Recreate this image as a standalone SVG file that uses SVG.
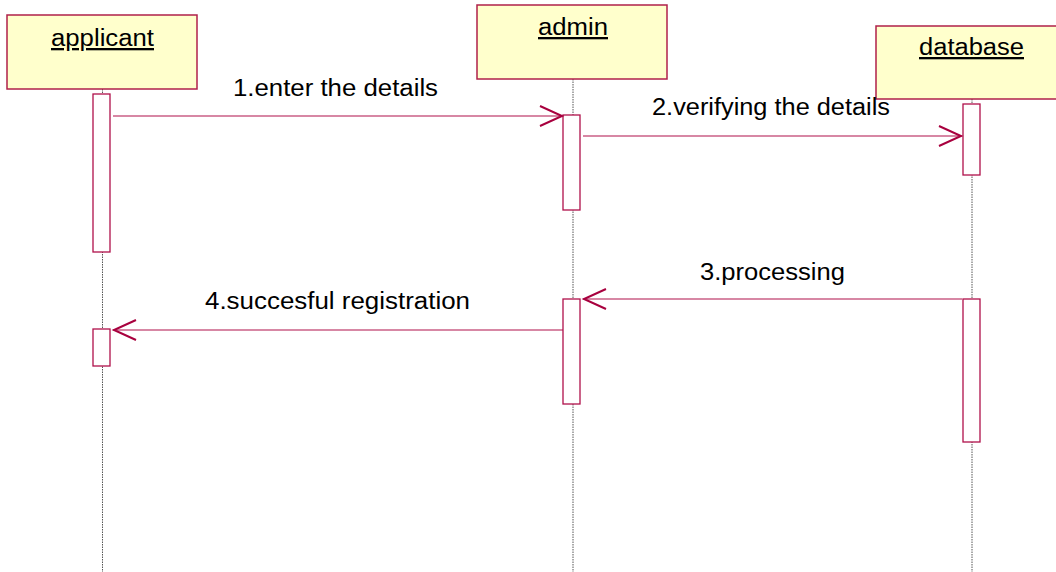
<svg xmlns="http://www.w3.org/2000/svg" width="1056" height="572" viewBox="0 0 1056 572">
<defs>
<style>
.obj{fill:#ffffcc;stroke:#b0204a;stroke-width:1.5}
.act{fill:#ffffff;stroke:#b0104a;stroke-width:1.3}
.life{stroke:#555555;stroke-width:1;stroke-dasharray:1.5,1}
.msg{stroke:#b0104a;stroke-width:1.2;fill:none}
.head{stroke:#a8003e;stroke-width:2;fill:none}
.lbl{font-family:"Liberation Sans",Arial,sans-serif;font-size:23px;fill:#000}
.name{font-family:"Liberation Sans",Arial,sans-serif;font-size:23px;fill:#000;text-decoration:underline}
</style>
</defs>
<g id="lifelines">
<line class="life" x1="102.5" y1="89" x2="102.5" y2="572"/>
<line class="life" x1="573" y1="79" x2="573" y2="572"/>
<line class="life" x1="972" y1="99" x2="972" y2="572"/>
</g>
<g id="applicant">
<rect class="obj" x="7" y="15" width="190" height="74"/>
<text class="name" x="51" y="46" textLength="103" lengthAdjust="spacingAndGlyphs">applicant</text>
<rect class="act" x="93" y="94" width="17" height="158"/>
<rect class="act" x="93" y="329" width="17" height="37"/>
</g>
<g id="admin">
<rect class="obj" x="477" y="5" width="190" height="74"/>
<text class="name" x="538" y="35" textLength="70" lengthAdjust="spacingAndGlyphs">admin</text>
<rect class="act" x="563" y="115" width="17" height="95"/>
<rect class="act" x="563" y="299" width="17" height="105"/>
</g>
<g id="database">
<rect class="obj" x="876" y="26" width="190" height="73"/>
<text class="name" x="919" y="55" textLength="105" lengthAdjust="spacingAndGlyphs">database</text>
<rect class="act" x="963" y="104" width="17" height="71"/>
<rect class="act" x="963" y="299" width="17" height="143"/>
</g>
<g id="connectors">
<line class="msg" x1="113" y1="116" x2="562" y2="116"/>
<polyline class="head" points="540,106 562,116 540,126"/>
<line class="msg" x1="583" y1="136" x2="962" y2="136"/>
<polyline class="head" points="939,126 961,136 939,146"/>
<line class="msg" x1="583" y1="299" x2="962" y2="299"/>
<polyline class="head" points="606,289 584,299 606,309"/>
<line class="msg" x1="113" y1="330" x2="563" y2="330"/>
<polyline class="head" points="136,320 114,330 136,340"/>
</g>
<g id="labels">
<text class="lbl" x="233" y="96" textLength="205" lengthAdjust="spacingAndGlyphs">1.enter the details</text>
<text class="lbl" x="652" y="115" textLength="238" lengthAdjust="spacingAndGlyphs">2.verifying the details</text>
<text class="lbl" x="700" y="280" textLength="145" lengthAdjust="spacingAndGlyphs">3.processing</text>
<text class="lbl" x="205" y="309" textLength="265" lengthAdjust="spacingAndGlyphs">4.succesful registration</text>
</g>
</svg>
